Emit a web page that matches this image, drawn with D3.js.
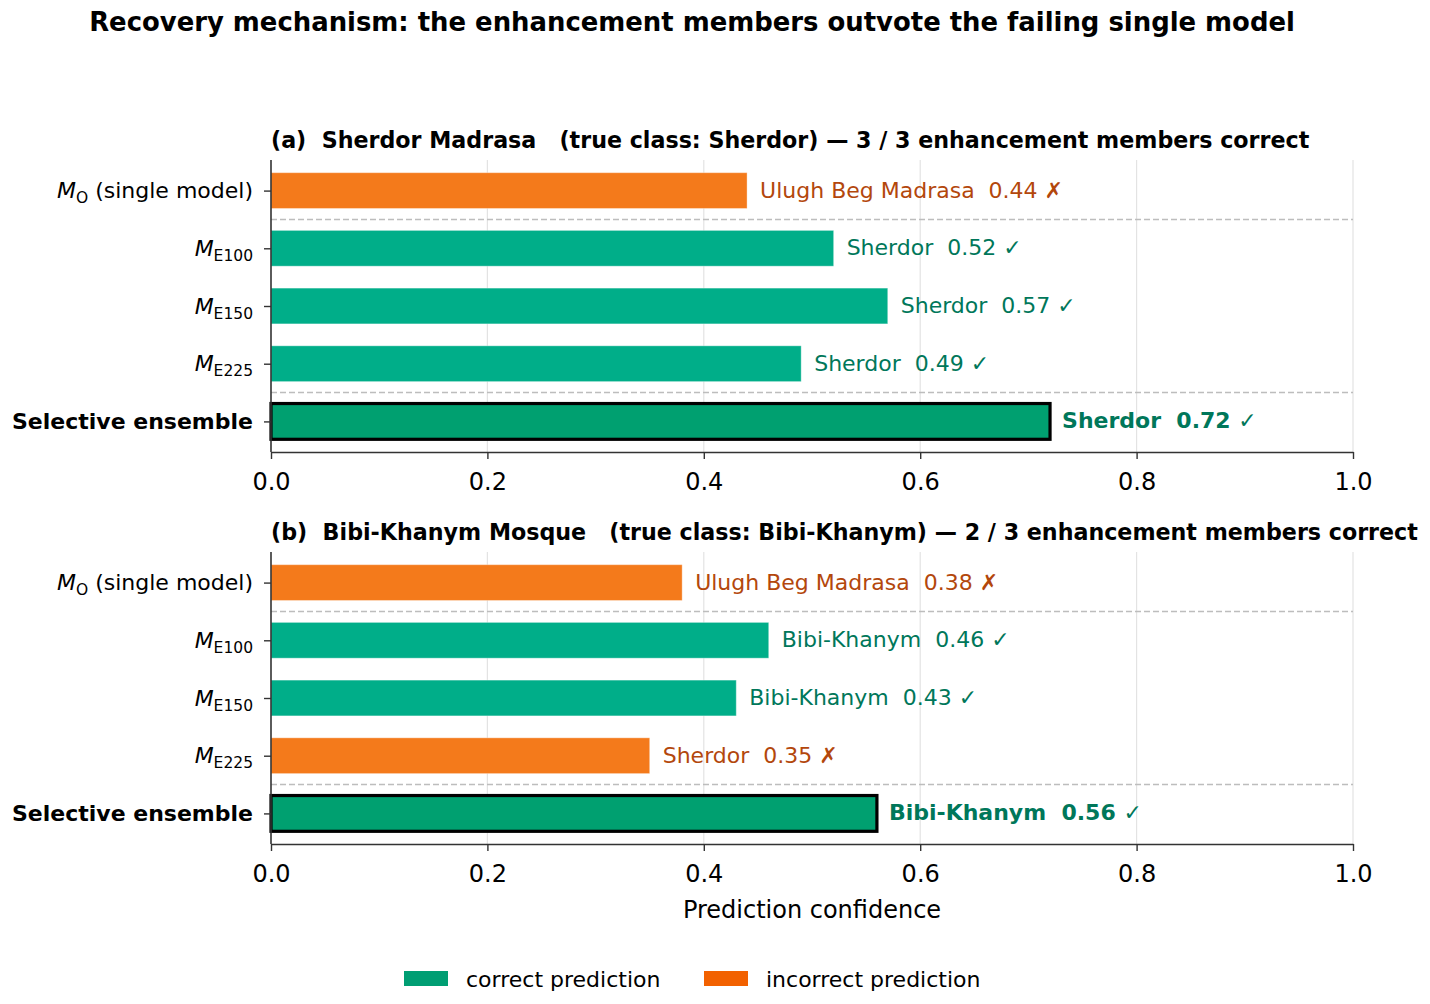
<!DOCTYPE html>
<html lang="en">
<head>
<meta charset="utf-8">
<title>recovery mechanism</title>
<script src="https://d3js.org/d3.v7.min.js"></script>
<style>
  body{margin:0;background:#fff;}
  svg text{font-family:"DejaVu Sans",sans-serif;white-space:pre;}
  .grid line{stroke:#e3e3e3;stroke-width:1.2;}
</style>
</head>
<body>
<div id="chart"></div>
<script>
// data
var panelTitles = [
  "(a)  Sherdor Madrasa   (true class: Sherdor) \u2014 3 / 3 enhancement members correct",
  "(b)  Bibi-Khanym Mosque   (true class: Bibi-Khanym) \u2014 2 / 3 enhancement members correct"
]
var rowSubs = ["O", "E100", "E150", "E225", null]   // null = selective ensemble row
var predA = ["Ulugh Beg Madrasa", "Sherdor", "Sherdor", "Sherdor", "Sherdor"]
var confA = [0.44, 0.52, 0.57, 0.49, 0.72]
var okA = [false, true, true, true, true]
var predB = ["Ulugh Beg Madrasa", "Bibi-Khanym", "Bibi-Khanym", "Sherdor", "Bibi-Khanym"]
var confB = [0.38, 0.46, 0.43, 0.35, 0.56]
var okB = [false, true, true, false, true]
var xTicks = [0.0, 0.2, 0.4, 0.6, 0.8, 1.0]
var separators = [0.5, 3.5]
var legendLabels = ["correct prediction", "incorrect prediction"]

var W = 1430, H = 1004
var left = 271, right = 1353
var panelTops = [160, 552], panelH = 292

var greenBar = "#00AE89", greenEns = "#00A070", orangeBar = "#F47A1B"
var greenText = "#00775A", orangeText = "#B3470C"
var legGreen = "#009E73", legOrange = "#F26100"

var svg = d3.select("#chart").append("svg")
  .attr("width", W).attr("height", H)

function txt(g, x, y, s, size, opts) {
  opts = opts || {}
  return g.append("text")
    .attr("x", x).attr("y", y)
    .attr("font-size", size)
    .attr("font-weight", opts.bold ? "bold" : "normal")
    .attr("text-anchor", opts.anchor || "start")
    .attr("fill", opts.fill || "#000")
    .text(s)
}

txt(svg, 692, 31, "Recovery mechanism: the enhancement members outvote the failing single model", 25.9, {bold: true, anchor: "middle"})

var x = d3.scaleLinear().domain([0, 1]).range([left, right])

var panels = [
  {pred: predA, conf: confA, ok: okA},
  {pred: predB, conf: confB, ok: okB}
]

panels.forEach(function(p, pi) {
  var top = panelTops[pi]
  var y = d3.scaleLinear().domain([-0.53, 4.53]).range([top, top + panelH])
  var bh = y(0.31) - y(-0.31)
  var g = svg.append("g")

  // panel title
  txt(g, left, top - 12, panelTitles[pi], 22.2, {bold: true})

  // vertical grid
  g.append("g").attr("class", "grid")
    .selectAll("line").data(xTicks.slice(1)).enter().append("line")
    .attr("x1", function(d){ return x(d) }).attr("x2", function(d){ return x(d) })
    .attr("y1", top).attr("y2", top + panelH)

  // dashed separators
  g.selectAll(".sep").data(separators).enter().append("line")
    .attr("class", "sep")
    .attr("x1", left).attr("x2", right)
    .attr("y1", function(d){ return y(d) }).attr("y2", function(d){ return y(d) })
    .attr("stroke", "#bdbdbd").attr("stroke-width", 1.4).attr("stroke-dasharray", "6,3")

  // bars
  var rows = p.conf.map(function(v, i){ return {i: i, v: v, ok: p.ok[i], pred: p.pred[i], ens: i === 4} })
  g.selectAll(".bar").data(rows).enter().append("rect")
    .attr("class", "bar")
    .attr("x", x(0))
    .attr("y", function(d){ return y(d.i) - bh / 2 })
    .attr("width", function(d){ return x(d.v) - x(0) })
    .attr("height", bh)
    .attr("fill", function(d){ return d.ens ? greenEns : (d.ok ? greenBar : orangeBar) })
    .attr("stroke", function(d){ return d.ens ? "#000" : "rgba(255,255,255,0.35)" })
    .attr("stroke-width", function(d){ return d.ens ? 3.2 : 1 })

  // bar labels
  rows.forEach(function(d) {
    var s = d.pred + "  " + d.v.toFixed(2) + " " + (d.ok ? "\u2713" : "\u2717")
    txt(g, x(d.v) + (d.ens ? 12 : 13), y(d.i) + 7, s, 22,
      {bold: d.ens, fill: d.ok ? greenText : orangeText})
  })

  // x axis
  var xAxis = d3.axisBottom(x).tickValues(xTicks).tickFormat(d3.format(".1f")).tickSize(7).tickSizeOuter(0)
  var ax = g.append("g").attr("transform", "translate(0," + (top + panelH) + ")").call(xAxis)
  ax.select(".domain").attr("stroke", "#333").attr("stroke-width", 1.6)
  ax.selectAll(".tick line").attr("stroke", "#333").attr("stroke-width", 1.4)
  ax.selectAll(".tick text")
    .attr("font-size", 24).attr("font-family", "'DejaVu Sans', sans-serif")
    .attr("fill", "#000").attr("y", 21).attr("dy", "0.71em")

  // y axis
  var yAxis = d3.axisLeft(y).tickValues([0, 1, 2, 3, 4]).tickSize(7).tickSizeOuter(0).tickFormat("")
  var ay = g.append("g").attr("transform", "translate(" + left + ",0)").call(yAxis)
  ay.select(".domain").attr("stroke", "#333").attr("stroke-width", 1.6)
    .attr("d", "M0," + top + "V" + (top + panelH))
  ay.selectAll(".tick line").attr("stroke", "#333").attr("stroke-width", 1.4)

  ay.selectAll(".tick").each(function(d) {
    var tk = d3.select(this)
    var sub = rowSubs[d]
    var t = tk.append("text")
      .attr("text-anchor", "end")
      .attr("font-size", 22)
      .attr("fill", "#000")
      .attr("x", -18).attr("y", 7)
    if (sub === null) {
      t.attr("font-weight", "bold").text("Selective ensemble")
    } else {
      t.append("tspan").attr("font-style", "italic").text("M")
      t.append("tspan").attr("font-size", 15.5).attr("dy", 5).text(sub)
      if (sub === "O") t.append("tspan").attr("dy", -5).text(" (single model)")
    }
  })
})

// x axis title
txt(svg, 812, 918, "Prediction confidence", 24, {anchor: "middle"})

// legend
var legX = [404, 704]
var leg = svg.append("g")
leg.selectAll("rect").data(legendLabels).enter().append("rect")
  .attr("x", function(d, i){ return legX[i] })
  .attr("y", 971).attr("width", 44).attr("height", 15)
  .attr("fill", function(d, i){ return i === 0 ? legGreen : legOrange })
legendLabels.forEach(function(s, i) {
  txt(leg, legX[i] + 62, 987, s, 22)
})
</script>
</body>
</html>
